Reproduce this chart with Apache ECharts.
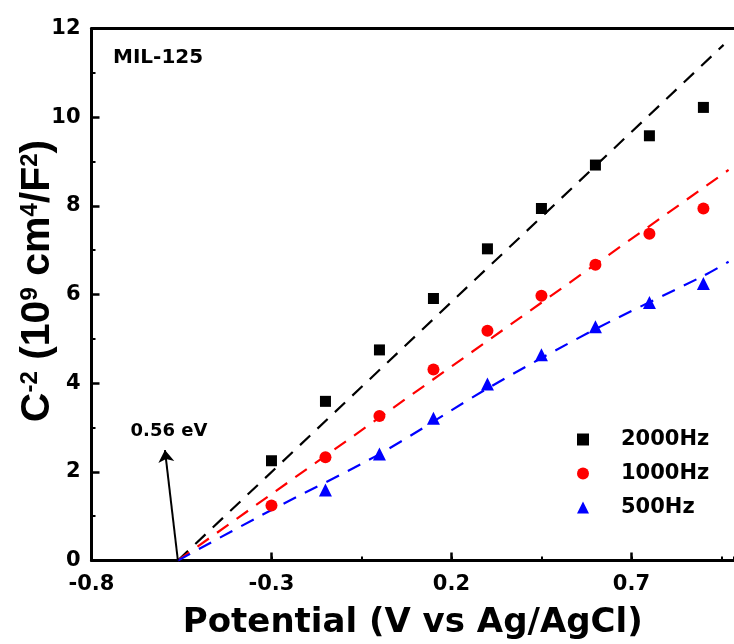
<!DOCTYPE html>
<html><head><meta charset="utf-8">
<script src="https://cdn.jsdelivr.net/npm/echarts@6/dist/echarts.min.js"></script>
<style>html,body{margin:0;padding:0;background:#fff}#c{width:734px;height:644px}</style>
</head><body><div id="c"></div>
<script>
// ---- data ----
const potentials = [-0.3, -0.15, 0, 0.15, 0.3, 0.45, 0.6, 0.75, 0.9];
const c2000 = [2.25, 3.59, 4.75, 5.91, 7.03, 7.94, 8.92, 9.58, 10.22];
const c1000 = [1.24, 2.33, 3.26, 4.31, 5.18, 5.97, 6.67, 7.37, 7.94];
const c500  = ['-', 1.59, 2.40, 3.21, 3.98, 4.64, 5.27, 5.82, 6.25];
const fit2000 = [[-0.56, 0], [0.956, 11.63]];
const fit1000 = [[-0.56, 0], [0.970, 8.81]];
const fit500  = [[-0.56, 0], [-0.3, 1.14], [0, 2.40], [0.3, 3.88], [0.6, 5.22], [0.9, 6.42], [0.97, 6.74]];
const xTickLabels = [-0.8, -0.3, 0.2, 0.7];
const seriesNames = ['2000Hz', '1000Hz', '500Hz'];
const arrowFrom = [-0.56, 0];
const arrowTo = [-0.596, 2.49];

const F = 'DejaVu Sans';
const XMIN = -0.8, XMAX = 0.985;
const pts = (ys) => potentials.map((x, i) => [x, ys[i]]);

const chart = echarts.init(document.getElementById('c'), null, {renderer: 'canvas'});
const dashed = (color) => ({color: color, width: 2.2, type: [14, 10]});

chart.setOption({
  animation: false,
  backgroundColor: '#fff',
  grid: {left: 91.5, right: 0, top: 28.5, bottom: 83.5, containLabel: false, outerBoundsMode: 'none'},
  xAxis: [
    {
      type: 'value', min: XMIN, max: XMAX, interval: 0.5, position: 'bottom',
      name: 'Potential (V vs Ag/AgCl)', nameLocation: 'middle', nameGap: 46,
      nameTextStyle: {fontFamily: F, fontWeight: 'bold', fontSize: 34, color: '#000'},
      axisLine: {show: true, onZero: false, lineStyle: {color: '#000', width: 3}},
      axisTick: {show: true, inside: true, length: 8, lineStyle: {color: '#000', width: 2.5}},
      axisLabel: {show: true, margin: 14, fontFamily: F, fontWeight: 'bold', fontSize: 21, color: '#000',
        showMaxLabel: false,
        formatter: (v) => xTickLabels.some(t => Math.abs(t - v) < 1e-6) ? String(Math.round(v * 10) / 10) : ''},
      splitLine: {show: false}
    },
    {
      type: 'value', min: XMIN, max: XMAX, interval: 0.25, position: 'bottom',
      axisLine: {show: false, onZero: false},
      axisTick: {show: true, inside: true, length: 4, lineStyle: {color: '#000', width: 2}},
      axisLabel: {show: false}, splitLine: {show: false}
    },
    {
      type: 'value', min: XMIN, max: XMAX, position: 'top',
      axisLine: {show: true, onZero: false, lineStyle: {color: '#000', width: 3}},
      axisTick: {show: false}, axisLabel: {show: false}, splitLine: {show: false}
    }
  ],
  yAxis: {
    type: 'value', min: 0, max: 12, interval: 2,
    axisLine: {show: true, onZero: false, lineStyle: {color: '#000', width: 3}},
    axisTick: {show: true, inside: true, length: 8, lineStyle: {color: '#000', width: 2.5}},
    minorTick: {show: true, splitNumber: 2, length: 4, lineStyle: {color: '#000', width: 2}},
    axisLabel: {margin: 11, fontFamily: F, fontWeight: 'bold', fontSize: 21, color: '#000'},
    splitLine: {show: false}, minorSplitLine: {show: false}
  },
  legend: {
    data: seriesNames, orient: 'vertical', left: 572, top: 424,
    itemWidth: 12, itemHeight: 12, itemGap: 13,
    textStyle: {fontFamily: F, fontWeight: 'bold', fontSize: 21, color: '#000', padding: [0, 0, 0, 27]},
    selectedMode: false
  },
  series: [
    {name: 'fit2000', type: 'line', data: fit2000, showSymbol: false, symbol: 'none', lineStyle: dashed('#000'), z: 2, silent: true,
      markLine: {silent: true, symbol: ['none', 'arrow'], symbolSize: 12, label: {show: false},
        lineStyle: {color: '#000', width: 2, type: 'solid', opacity: 1},
        itemStyle: {color: '#000'},
        data: [[{coord: arrowFrom}, {coord: arrowTo}]]}},
    {name: 'fit1000', type: 'line', data: fit1000, showSymbol: false, symbol: 'none', lineStyle: dashed('#ff0000'), z: 2, silent: true},
    {name: 'fit500', type: 'line', data: fit500, showSymbol: false, symbol: 'none', smooth: 0.3, lineStyle: dashed('#0000ff'), z: 2, silent: true},
    {name: seriesNames[0], type: 'scatter', data: pts(c2000), symbol: 'rect', symbolSize: 11, itemStyle: {color: '#000', opacity: 1}, z: 3},
    {name: seriesNames[1], type: 'scatter', data: pts(c1000), symbol: 'circle', symbolSize: 12, itemStyle: {color: '#ff0000', opacity: 1}, z: 3},
    {name: seriesNames[2], type: 'scatter', data: pts(c500), symbol: 'triangle', symbolSize: 13, itemStyle: {color: '#0000ff', opacity: 1}, z: 3}
  ],
  graphic: [
    {type: 'text', x: 113, y: 58, style: {text: 'MIL-125', fontFamily: F, fontWeight: 'bold', fontSize: 20, fill: '#000', align: 'left', verticalAlign: 'middle'}},
    {type: 'text', x: 169, y: 431, style: {text: '0.56 eV', fontFamily: F, fontWeight: 'bold', fontSize: 18, fill: '#000', align: 'center', verticalAlign: 'middle'}},
    {type: 'text', x: 38, y: 281, rotation: Math.PI / 2,
      style: {text: 'C{s|-2} (10{s|9} cm{s|4}/F{s|2})', fontFamily: 'Liberation Sans', fontWeight: 'bold', fontSize: 41, lineHeight: 40,
        fill: '#000', align: 'center', verticalAlign: 'middle',
        rich: {s: {fontFamily: 'Liberation Sans', fontWeight: 'bold', fontSize: 24, lineHeight: 4, verticalAlign: 'top', fill: '#000'}}}}
  ]
});
</script>
</body></html>
